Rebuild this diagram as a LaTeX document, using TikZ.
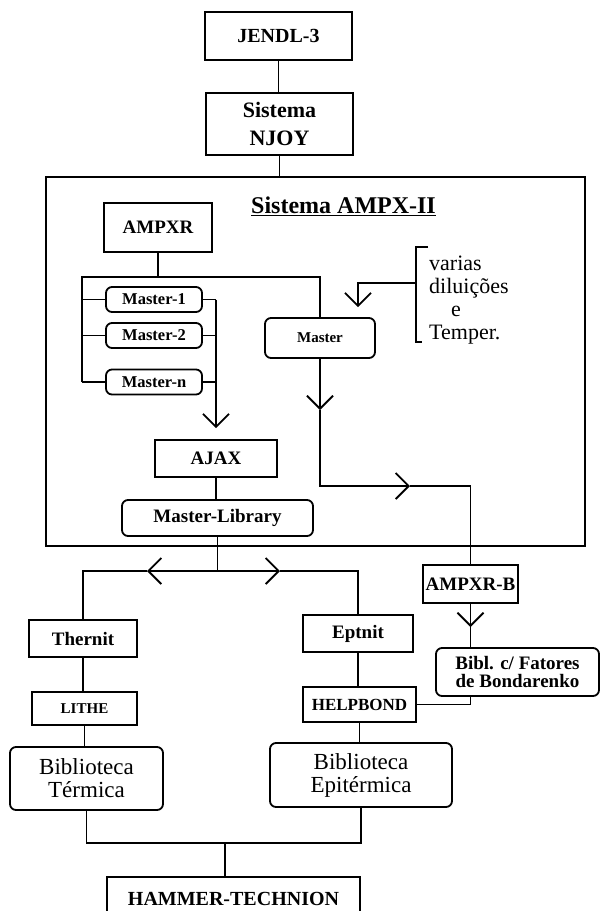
\documentclass[tikz,border=0pt]{standalone}
\usepackage{fontspec}
\setmainfont{Liberation Serif}
\usetikzlibrary{positioning, arrows.meta}
\newcommand{\setfs}[2]{\fontsize{#1}{#2}\selectfont}

\begin{document}
\begin{tikzpicture}[x=1pt, y=-1pt,
    box/.style={draw, line width=1.8pt, inner sep=0pt, align=center},
    rbox/.style={box, rounded corners=6pt},
    line/.style={line width=1.8pt},
    barb/.style={line, -{Straight Barb[length=13pt, width=26pt]}}
    ]
    \clip (0,0) rectangle (601,911);
    % entrada
    \node[box, minimum width=147pt, minimum height=48pt, font=\bfseries\setfs{20}{22}] (jendl) at (278.5,36) {JENDL-3};
    \node[box, minimum width=147pt, minimum height=62pt, font=\bfseries\setfs{22}{28}] (njoy) at (279.5,124) {Sistema\\NJOY};
    % sistema AMPX-II
    \node[box, minimum width=539pt, minimum height=369pt] (ampx) at (315.5,361.5) {};
    \node[font=\bfseries\setfs{24}{26}, inner sep=0pt] (titulo) at (343.5,206) {\underline{Sistema AMPX-II}};
    \node[box, minimum width=108pt, minimum height=49pt, font=\bfseries\setfs{19}{21}] (ampxr) at (158,227.5) {AMPXR};
    \node[rbox, minimum width=96pt, minimum height=25pt, font=\bfseries\setfs{16.5}{18}] (master1) at (154,299.5) {Master-1};
    \node[rbox, minimum width=96pt, minimum height=25pt, font=\bfseries\setfs{16.5}{18}] (master2) at (154,335.5) {Master-2};
    \node[rbox, minimum width=96pt, minimum height=25pt, font=\bfseries\setfs{16.5}{18}] (mastern) at (154,382) {Master-n};
    \node[rbox, minimum width=110pt, minimum height=40pt, font=\bfseries\setfs{15}{17}] (master) at (320,338) {Master};
    \node[anchor=west, align=left, inner sep=0pt, font=\setfs{22}{23}] (dil) at (429,300)
        {varias\\diluições\\\hspace*{22pt}e\\Temper.};
    \node[box, minimum width=122pt, minimum height=37pt, font=\bfseries\setfs{19}{21}] (ajax) at (216,458.5) {AJAX};
    \node[rbox, minimum width=191pt, minimum height=36pt, font=\bfseries\setfs{19}{21}] (mlib) at (217.5,518) {Master-Library};
    % fora do AMPX-II
    \node[box, minimum width=95pt, minimum height=38pt, font=\bfseries\setfs{19}{21}] (ampxrb) at (470.5,584) {AMPXR-B};
    \node[rbox, minimum width=163pt, minimum height=48pt, font=\bfseries\setfs{19}{18}] (bibl) at (517.5,672)
        {Bibl. c/ Fatores\\de Bondarenko};
    \node[box, minimum width=108pt, minimum height=37pt, font=\bfseries\setfs{19}{21}] (thernit) at (83,638.5) {Thernit};
    \node[box, minimum width=110pt, minimum height=37pt, font=\bfseries\setfs{19}{21}] (eptnit) at (358,633.5) {Eptnit};
    \node[box, minimum width=105pt, minimum height=33pt, font=\bfseries\setfs{15}{17}] (lithe) at (84.5,708.5) {LITHE};
    \node[box, minimum width=113pt, minimum height=35pt, font=\bfseries\setfs{17}{19}] (helpbond) at (359.5,704.5) {HELPBOND};
    \node[rbox, minimum width=153pt, minimum height=63pt, font=\setfs{23}{23}] (termica) at (86.5,778.5) {Biblioteca\\Térmica};
    \node[rbox, minimum width=182pt, minimum height=64pt, font=\setfs{23}{23}] (epiterm) at (361,775) {Biblioteca\\Epitérmica};
    \node[box, minimum width=253pt, minimum height=44pt, font=\bfseries\setfs{20}{22}] (hammer) at (233.5,899) {HAMMER-TECHNION};

    % pontos livres
    \coordinate (busl) at (82,277);
    \coordinate (brk) at (416,283);
    \coordinate (seta1) at (320,410);
    \coordinate (dobra) at (320,486);
    \coordinate (seta2) at (410,486);
    \coordinate (seta3) at (470.5,627);
    \coordinate (bus2) at (217.5,571);
    \coordinate (seta4) at (147,571);
    \coordinate (seta5) at (280,571);
    \coordinate (bus3) at (225,843);

    \draw[line] (jendl.south) -- (jendl.south |- njoy.north);
    \draw[line] (njoy.south) -- (njoy.south |- ampx.north);
    \draw[line] (ampxr.south) -- (ampxr.south |- busl);
    \draw[line] (mastern.west -| busl) -- (busl) -| (master.north);
    \foreach \m in {master1, master2, mastern} {
        \draw[line] (\m.west) -- (\m.west -| busl);
        \draw[line] (\m.east) -- (\m.east -| ajax.north);
    }
    \draw[barb, shorten >=11pt] (master1.east -| ajax.north) -- (ajax.north);
    % colchete
    \draw[line] (428,247) -- (416,247) -- (416,342) -- (422,342);
    \draw[barb, shorten >=10pt] (brk) -| ([xshift=38pt]master.north);
    \draw[barb] (master.south) -- (seta1);
    \draw[barb] (seta1) -- (dobra) -- (seta2);
    \draw[line] (seta2) -| (ampxrb.north);
    \draw[barb] (ampxrb.south) -- (seta3);
    \draw[line] (seta3) -- (seta3 |- bibl.north);
    \draw[line] (ampxrb.south |- bibl.south) |- (helpbond.east);
    \draw[line] (ajax.south) -- (ajax.south |- mlib.north);
    \draw[line] (mlib.south) -- (bus2);
    \draw[barb] (bus2) -- (seta4);
    \draw[line] (seta4) -| (thernit.north);
    \draw[barb] (bus2) -- (seta5);
    \draw[line] (seta5) -| (eptnit.north);
    \draw[line] (thernit.south) -- (thernit.south |- lithe.north);
    \draw[line] (lithe.south) -- (lithe.south |- termica.north);
    \draw[line] (eptnit.south) -- (eptnit.south |- helpbond.north);
    \draw[line] (helpbond.south) -- (helpbond.south |- epiterm.north);
    \draw[line] (termica.south) -- (termica.south |- bus3) -- (epiterm.south |- bus3) -- (epiterm.south);
    \draw[line] (bus3) -- (bus3 |- hammer.north);
\end{tikzpicture}
\end{document}
